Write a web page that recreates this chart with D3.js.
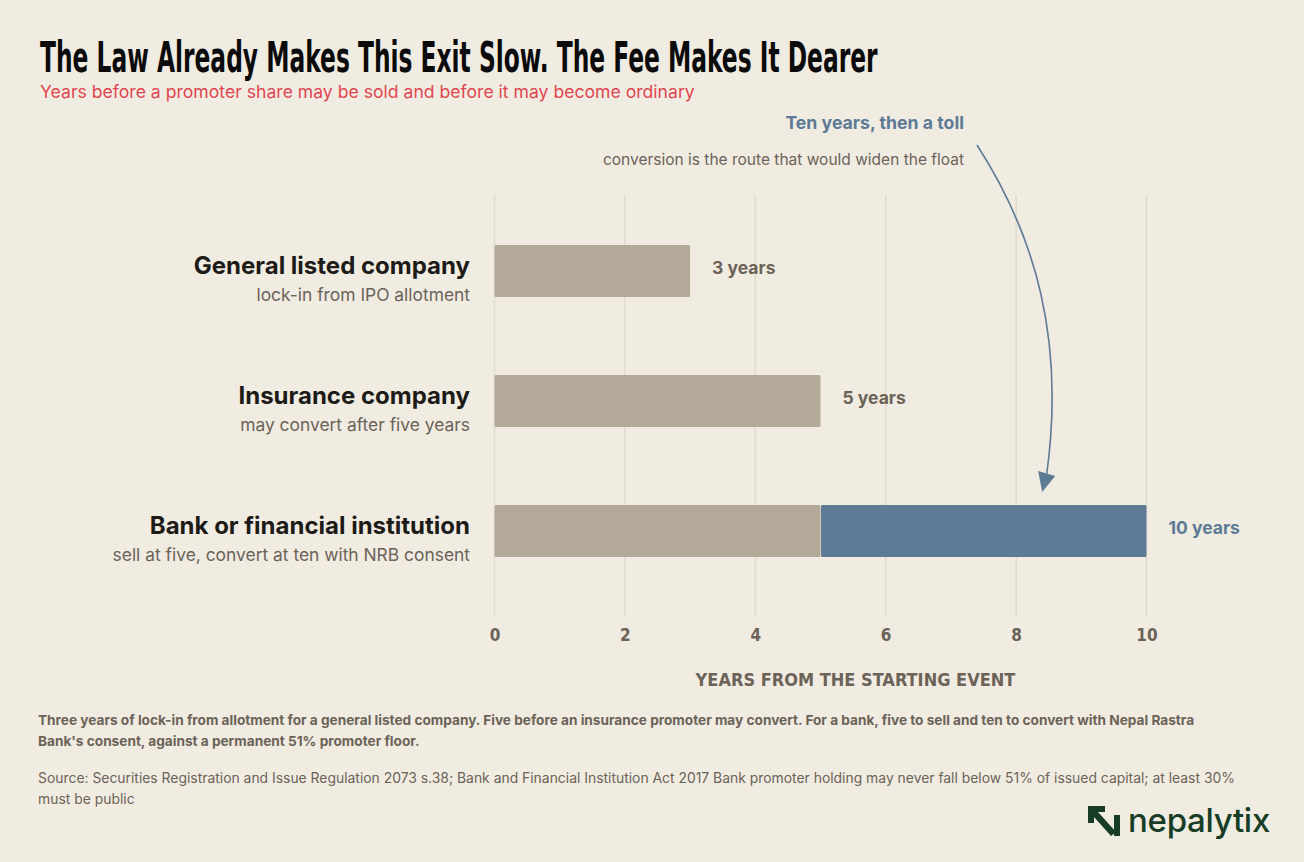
<!DOCTYPE html>
<html>
<head>
<meta charset="utf-8">
<script src="https://cdn.jsdelivr.net/npm/d3@7"></script>
<style>
  html, body { margin: 0; padding: 0; background: #f1ece2; }
  svg { display: block; }
</style>
</head>
<body>
<div id="chart"></div>
<script>
// data
const categories = ["General listed company", "Insurance company", "Bank or financial institution"];
const notes = ["lock-in from IPO allotment", "may convert after five years", "sell at five, convert at ten with NRB consent"];
const lockYears = [3, 5, 5];
const extraYears = [0, 0, 5];
const valueLabels = ["3 years", "5 years", "10 years"];
const tickValues = [0, 2, 4, 6, 8, 10];

const W = 1304, H = 862;
const bg = "#f1ece2", tan = "#b3a998", blue = "#5e7b96", gray = "#6b6358", ink = "#1d1b18";
const sans = "Inter, 'Noto Sans', sans-serif";
const narrow = "'Liberation Sans Narrow', 'DejaVu Sans Condensed', sans-serif";

const svg = d3.select("#chart").append("svg")
    .attr("width", W).attr("height", H);

svg.append("rect").attr("width", W).attr("height", H).attr("fill", bg);

// scales
const x = d3.scaleLinear().domain([0, 10]).range([494.5, 1146.5]);
const y = d3.scaleBand().domain(categories).range([206, 596]).paddingInner(0.6).paddingOuter(0.3);

// gridlines
svg.append("g")
    .selectAll("line")
    .data(tickValues)
    .join("line")
    .attr("x1", d => x(d)).attr("x2", d => x(d))
    .attr("y1", 195).attr("y2", 617)
    .attr("stroke", "#e1dbce").attr("stroke-width", 1.5);

// axis
const axis = svg.append("g")
    .attr("transform", "translate(0,617)")
    .call(d3.axisBottom(x).tickValues(tickValues).tickSize(0).tickPadding(12).tickFormat(d3.format("d")));
axis.select(".domain").remove();
axis.selectAll("text")
    .attr("fill", gray)
    .style("font-family", narrow)
    .style("font-weight", "bold")
    .style("font-size", "17px");

svg.append("text")
    .attr("x", (x(0) + x(10)) / 2 + 35).attr("y", 686)
    .attr("text-anchor", "middle")
    .attr("fill", gray)
    .style("font-family", narrow).style("font-weight", "bold").style("font-size", "18px")
    .text("YEARS FROM THE STARTING EVENT");

// bars
const rows = categories.map((c, i) => ({ cat: c, note: notes[i], lock: lockYears[i], extra: extraYears[i], label: valueLabels[i] }));

svg.append("g").selectAll("rect")
    .data(rows)
    .join("rect")
    .attr("x", x(0))
    .attr("y", d => y(d.cat))
    .attr("width", d => x(d.lock) - x(0))
    .attr("height", y.bandwidth())
    .attr("rx", 1.5)
    .attr("fill", tan);

svg.append("g").selectAll("rect")
    .data(rows.filter(d => d.extra > 0))
    .join("rect")
    .attr("x", d => x(d.lock) + 0.5)
    .attr("y", d => y(d.cat))
    .attr("width", d => x(d.lock + d.extra) - x(d.lock) - 0.5)
    .attr("height", y.bandwidth())
    .attr("rx", 1.5)
    .attr("fill", blue);

// value labels
svg.append("g").selectAll("text")
    .data(rows)
    .join("text")
    .attr("x", d => x(d.lock + d.extra) + 22)
    .attr("y", d => y(d.cat) + y.bandwidth() / 2 + 3)
    .attr("fill", d => d.extra > 0 ? blue : gray)
    .style("font-family", sans).style("font-weight", "bold").style("font-size", "17.5px")
    .text(d => d.label);

// category labels
const lab = svg.append("g").selectAll("g")
    .data(rows)
    .join("g")
    .attr("transform", d => `translate(470,${y(d.cat) + y.bandwidth() / 2})`);
lab.append("text")
    .attr("y", 3).attr("text-anchor", "end")
    .attr("fill", ink)
    .style("font-family", sans).style("font-weight", "bold").style("font-size", "24px")
    .text(d => d.cat);
lab.append("text")
    .attr("y", 30).attr("text-anchor", "end")
    .attr("fill", gray)
    .style("font-family", sans).style("font-size", "17.4px")
    .text(d => d.note);

// title: condensed to the reference width
const title = svg.append("text")
    .attr("fill", "#0b0b0b")
    .style("font-family", narrow).style("font-weight", "bold").style("font-size", "42px")
    .text("The Law Already Makes This Exit Slow. The Fee Makes It Dearer");
const tw = title.node().getComputedTextLength();
title.attr("transform", `translate(40,72) scale(${838 / tw},1)`);

svg.append("text")
    .attr("x", 40).attr("y", 98)
    .attr("fill", "#e0464f")
    .style("font-family", sans).style("font-size", "17.6px")
    .text("Years before a promoter share may be sold and before it may become ordinary");

// annotation
svg.append("text")
    .attr("x", 964).attr("y", 129).attr("text-anchor", "end")
    .attr("fill", blue)
    .style("font-family", sans).style("font-weight", "bold").style("font-size", "17.7px")
    .text("Ten years, then a toll");
svg.append("text")
    .attr("x", 964).attr("y", 165).attr("text-anchor", "end")
    .attr("fill", gray)
    .style("font-family", sans).style("font-size", "15.5px")
    .text("conversion is the route that would widen the float");

const tipX = x(8.4), tipY = y(categories[2]) - 13;
svg.append("path")
    .attr("d", `M977,145 C1035,235 1066,340 ${tipX + 4},${tipY - 14}`)
    .attr("fill", "none").attr("stroke", blue).attr("stroke-width", 1.6);
svg.append("path")
    .attr("d", `M${tipX - 4},${tipY - 21} L${tipX + 13},${tipY - 16} L${tipX},${tipY} Z`)
    .attr("fill", blue);

// footer
const foot1 = [
  "Three years of lock-in from allotment for a general listed company. Five before an insurance promoter may convert. For a bank, five to sell and ten to convert with Nepal Rastra",
  "Bank's consent, against a permanent 51% promoter floor."
];
const foot2 = [
  "Source: Securities Registration and Issue Regulation 2073 s.38; Bank and Financial Institution Act 2017 Bank promoter holding may never fall below 51% of issued capital; at least 30%",
  "must be public"
];
svg.append("g").selectAll("text").data(foot1).join("text")
    .attr("x", 38).attr("y", (d, i) => 725 + i * 21)
    .attr("fill", gray)
    .style("font-family", sans).style("font-weight", "bold").style("font-size", "13.65px")
    .text(d => d);
svg.append("g").selectAll("text").data(foot2).join("text")
    .attr("x", 38).attr("y", (d, i) => 783 + i * 21)
    .attr("fill", gray)
    .style("font-family", sans).style("font-size", "13.9px")
    .text(d => d);

// logo
const logo = svg.append("g").attr("fill", "#173d26");
logo.append("path").attr("d", "M1088,806 L1105,806 L1105,812 L1098,812 L1116,832 L1111,836 L1094,817 L1094,823 L1088,823 Z");
logo.append("rect").attr("x", 1114).attr("y", 815).attr("width", 6).attr("height", 21);
logo.append("text")
    .attr("x", 1128).attr("y", 832)
    .style("font-family", sans).style("font-weight", 500).style("font-size", "33px")
    .style("letter-spacing", "-0.3px")
    .text("nepalytix");
</script>
</body>
</html>
